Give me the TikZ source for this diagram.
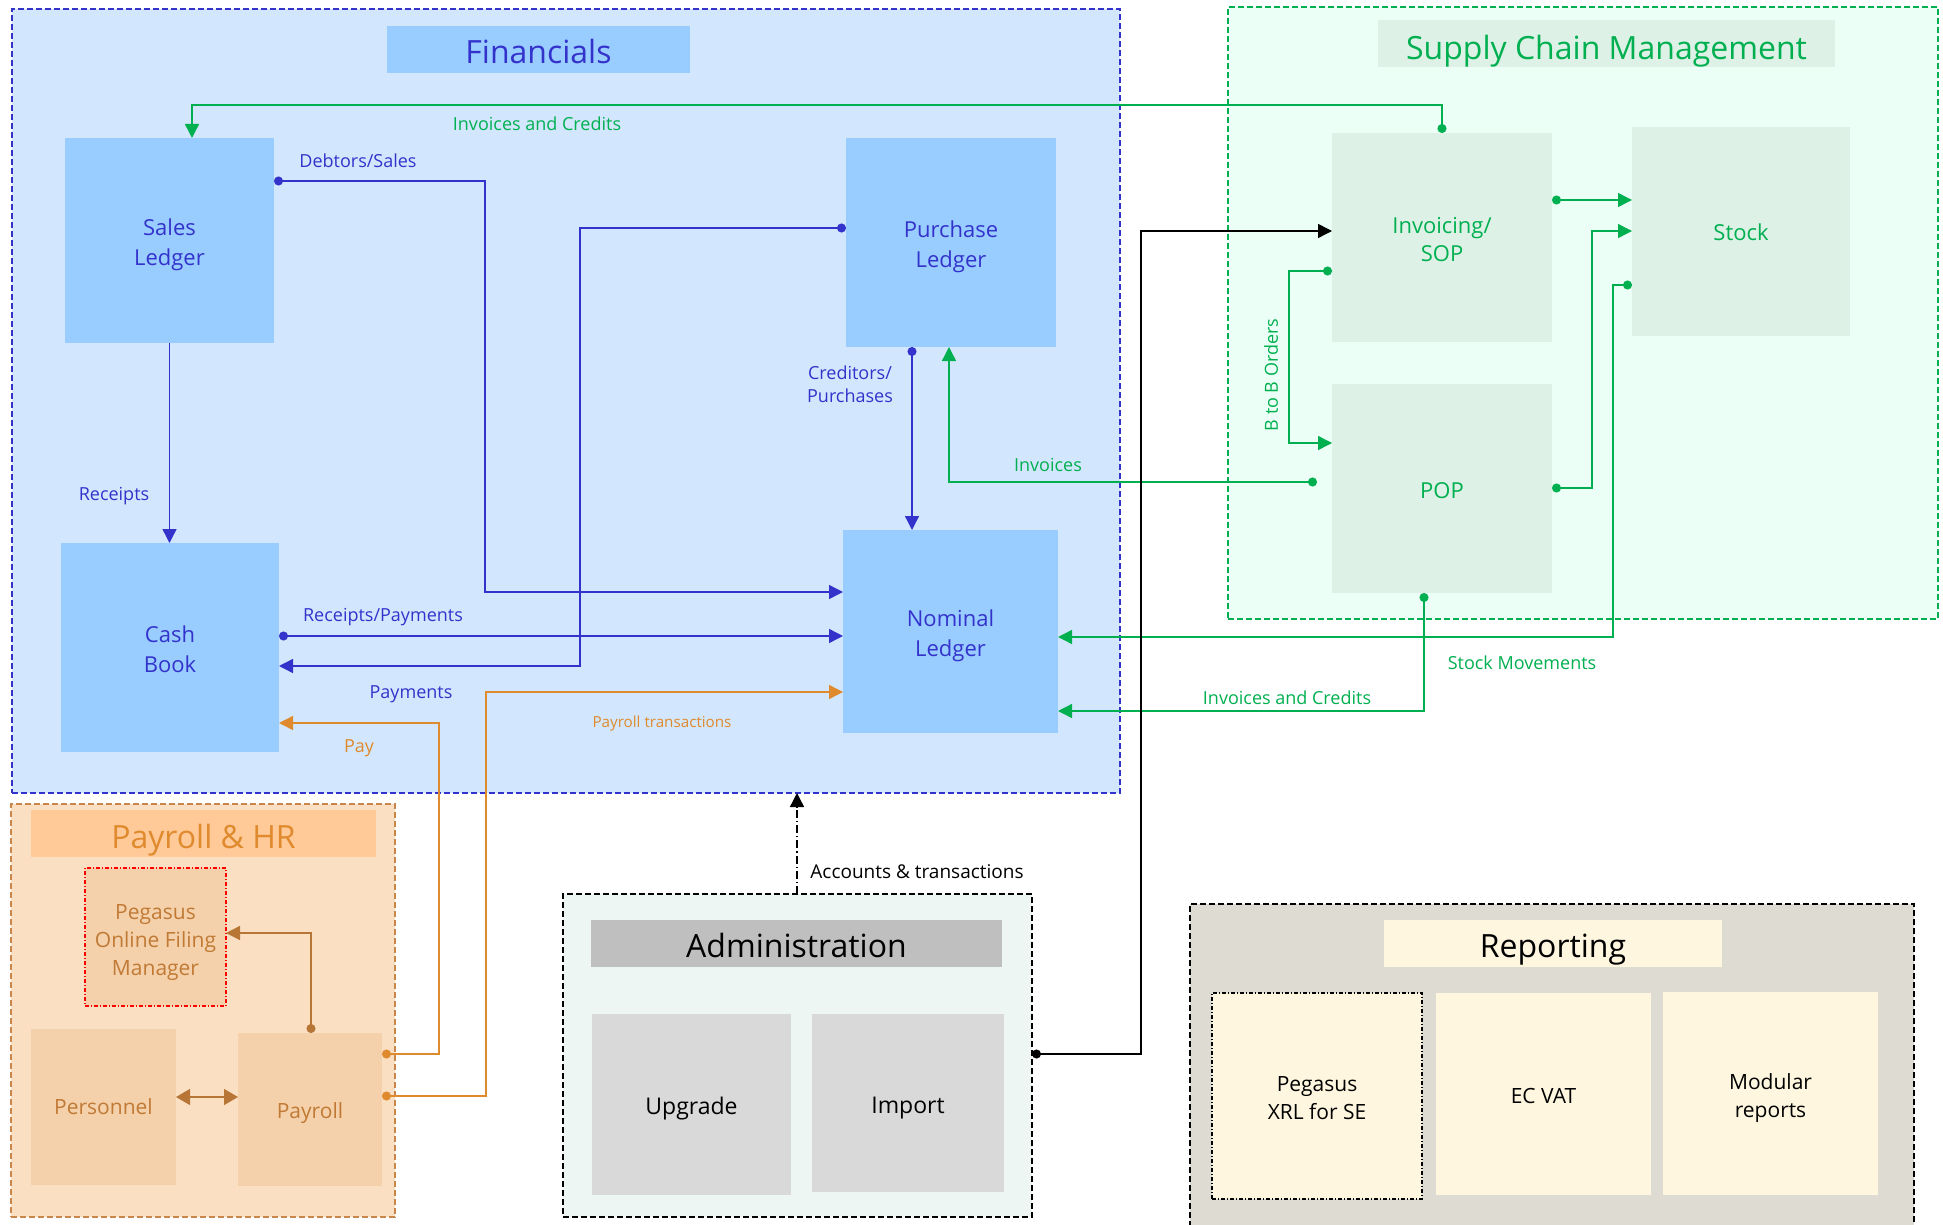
\documentclass[tikz,border=0pt]{standalone}
\usepackage{fontspec}
\setmainfont{Open Sans}
\usetikzlibrary{arrows.meta,calc}
\definecolor{bluec}{HTML}{3333CC}
\definecolor{finfill}{HTML}{D2E7FD}
\definecolor{finbox}{HTML}{99CCFF}
\definecolor{greenc}{HTML}{00B050}
\definecolor{scmfill}{HTML}{ECFFF6}
\definecolor{scmbox}{HTML}{DDF1E6}
\definecolor{orangec}{HTML}{E08A2E}
\definecolor{brownc}{HTML}{B87636}
\definecolor{payfill}{HTML}{FADFC3}
\definecolor{paytitle}{HTML}{FFCA98}
\definecolor{paybox}{HTML}{F4D1AA}
\definecolor{payborder}{HTML}{C8864A}
\definecolor{paytext}{HTML}{C07A35}
\definecolor{admfill}{HTML}{EDF6F2}
\definecolor{admtitle}{HTML}{BFBFBF}
\definecolor{admbox}{HTML}{D9D9D9}
\definecolor{repfill}{HTML}{DEDBD3}
\definecolor{repbox}{HTML}{FEF6DF}
% box: style, name, x1, y1, x2, y2, text, text drop in pt (coordinates in pixels)
\newcommand\mkbox[8]{%
  \pgfmathsetmacro\myBW{(#5-#3)*0.5}%
  \pgfmathsetmacro\myBH{(#6-#4)*0.5}%
  \node[#1,minimum width=\myBW pt,minimum height=\myBH pt] (#2) at ({(#3+#5)/2},{(#4+#6)/2}) {};
  \node[#1,draw=none,fill=none,minimum width=0pt,minimum height=0pt,yshift=-#8pt] (#2-t) at (#2.center) {#7};}
\begin{document}
\begin{tikzpicture}[x=0.5pt,y=-0.5pt,
  box/.style={rectangle,inner sep=0pt,outer sep=0pt,align=center},
  cont/.style={box,line width=0.6pt,dash pattern=on 3pt off 1.5pt},
  ttl/.style={box,font=\fontsize{16}{19}\selectfont},
  fbx/.style={box,fill=finbox,text=bluec,font=\fontsize{11}{15}\selectfont},
  sbx/.style={box,fill=scmbox,text=greenc,font=\fontsize{11}{14}\selectfont},
  pbx/.style={box,fill=paybox,text=paytext,font=\fontsize{10.5}{13.8}\selectfont},
  abx/.style={box,fill=admbox,text=black,font=\fontsize{11.5}{14}\selectfont},
  rbx/.style={box,fill=repbox,text=black,font=\fontsize{10.5}{14}\selectfont},
  lbl/.style={inner sep=0pt,align=center,font=\fontsize{9}{11.5}\selectfont},
  ln/.style={line width=0.7pt},
  arr/.style={-{Triangle[length=7pt,width=7pt]}},
  darr/.style={{Circle[length=4.5pt]}-{Triangle[length=7pt,width=7pt]}},
  dbl/.style={{Triangle[length=7pt,width=8pt]}-{Triangle[length=7pt,width=8pt]}}
]
\clip (0,0) rectangle (1943,1225);
\fill[white] (0,0) rectangle (1943,1225);

% ---------- Financials ----------
\mkbox{cont,fill=finfill,draw=bluec}{fin}{12}{9}{1120}{793}{}{0}
\mkbox{ttl,fill=finbox,text=bluec}{fintitle}{387}{26}{690}{73}{Financials}{1.2}
\mkbox{fbx}{sales}{65}{138}{274}{343}{Sales\\Ledger}{1.9}
\mkbox{fbx}{purch}{846}{138}{1056}{347}{Purchase\\Ledger}{1.9}
\mkbox{fbx}{cash}{61}{543}{279}{752}{Cash\\Book}{1.0}
\mkbox{fbx}{nom}{843}{530}{1058}{733}{Nominal\\Ledger}{1.9}

% ---------- Supply Chain ----------
\mkbox{cont,fill=scmfill,draw=greenc}{scm}{1228}{7}{1938}{619}{}{0}
\mkbox{ttl,fill=scmbox,text=greenc}{scmtitle}{1378}{20}{1835}{67}{Supply Chain Management}{3.6}
\mkbox{sbx}{inv}{1332}{133}{1552}{342}{Invoicing/\\SOP}{1.0}
\mkbox{sbx}{stock}{1632}{127}{1850}{336}{Stock}{0.6}
\mkbox{sbx}{pop}{1332}{384}{1552}{593}{POP}{1.2}

% ---------- Payroll & HR ----------
\mkbox{cont,fill=payfill,draw=payborder}{payhr}{11}{804}{395}{1217}{}{0}
\mkbox{ttl,fill=paytitle,text=orangec}{paytitlebar}{31}{810}{376}{857}{Payroll \& HR}{3.1}
\mkbox{pbx,draw=red,line width=0.6pt,dash pattern=on 2pt off 1pt on 0.5pt off 1pt}{ofm}{85}{868}{226}{1006}{Pegasus\\Online Filing\\Manager}{2.8}
\mkbox{pbx}{pers}{31}{1029}{176}{1185}{Personnel}{0}
\mkbox{pbx}{payroll}{238}{1033}{382}{1186}{Payroll}{1.9}

% ---------- Administration ----------
\mkbox{cont,fill=admfill,draw=black}{adm}{563}{894}{1032}{1217}{}{0}
\mkbox{ttl,fill=admtitle,text=black}{admtitlebar}{591}{920}{1002}{967}{Administration}{1.2}
\mkbox{abx}{upg}{592}{1014}{791}{1195}{Upgrade}{1.9}
\mkbox{abx}{imp}{812}{1014}{1004}{1192}{Import}{2.5}

% ---------- Reporting ----------
\mkbox{cont,fill=repfill,draw=black}{rep}{1190}{904}{1914}{1245}{}{0}
\mkbox{ttl,fill=repbox,text=black}{reptitle}{1384}{920}{1722}{967}{Reporting}{3.1}
\mkbox{rbx,draw=black,line width=0.6pt,dash pattern=on 2pt off 1pt on 0.5pt off 1pt}{xrl}{1212}{993}{1422}{1199}{Pegasus\\XRL for SE}{1.0}
\mkbox{rbx}{ecvat}{1436}{993}{1651}{1195}{EC VAT}{1.2}
\mkbox{rbx}{modrep}{1663}{992}{1878}{1195}{Modular\\reports}{2.5}

% ---------- Connectors: blue ----------
\draw[ln,draw=bluec,darr] (sales.east |- 0,181) -- (485,181) |- (nom.west |- 0,592);
\draw[ln,draw=bluec,darr] (purch.west |- 0,228) -- (580,228) |- (cash.east |- 0,666);
\draw[ln,draw=bluec,darr] (cash.east |- 0,636) -- (nom.west |- 0,636);
\draw[ln,draw=bluec,arr] (sales.south) -- (sales.south |- cash.north);
\draw[ln,draw=bluec,darr] (purch.south -| 912,0) -- (nom.north -| 912,0);

% ---------- Connectors: green ----------
\draw[ln,draw=greenc,darr] (inv.north) -- ++(0,-28) -| (sales.north -| 192,0);
\draw[ln,draw=greenc,darr] ($(pop.west |- 0,482)+(-15,0)$) -- (949,482) -- (purch.south -| 949,0);
\draw[ln,draw=greenc,darr] (inv.west |- 0,271) -- (1289,271) |- (pop.west |- 0,443);
\draw[ln,draw=greenc,darr] (inv.east |- 0,200) -- (stock.west |- 0,200);
\draw[ln,draw=greenc,darr] (pop.east |- 0,488) -- (1592,488) |- (stock.west |- 0,231);
\draw[ln,draw=greenc,darr] (stock.west |- 0,285) -- (1613,285) |- (nom.east |- 0,637);
\draw[ln,draw=greenc,darr] (pop.south -| 1424,0) |- (nom.east |- 0,711);

% ---------- Connectors: black ----------
\draw[ln,draw=black,darr] (adm.east |- 0,1054) -- (1141,1054) |- (inv.west |- 0,231);
\draw[ln,draw=black,arr,dash pattern=on 4pt off 1.5pt on 0.6pt off 1.5pt] (adm.north -| 797,0) -- (fin.south -| 797,0);

% ---------- Connectors: orange / brown ----------
\draw[ln,draw=orangec,darr] (payroll.east |- 0,1054) -- (439,1054) |- (cash.east |- 0,723);
\draw[ln,draw=orangec,darr] (payroll.east |- 0,1096) -- (486,1096) |- (nom.west |- 0,692);
\draw[ln,draw=brownc,darr] (payroll.north -| 311,0) |- (ofm.east |- 0,933);
\draw[ln,draw=brownc,dbl] (pers.east |- 0,1097) -- (payroll.west |- 0,1097);

% ---------- Labels ----------
\node[lbl,text=greenc] (lInvCredTop) at (537,124) {Invoices and Credits};
\node[lbl,text=bluec] (lDebt) at (358,161) {Debtors/Sales};
\node[lbl,text=bluec] (lCred) at (850,384) {Creditors/\\Purchases};
\node[lbl,text=bluec] (lRec) at (114,496) {Receipts};
\node[lbl,text=bluec] (lRecPay) at (383,617) {Receipts/Payments};
\node[lbl,text=bluec] (lPaym) at (411,694) {Payments};
\node[lbl,text=orangec] (lPay) at (359,748) {Pay};
\node[lbl,text=orangec,font=\fontsize{7.6}{9}\selectfont] (lPayTr) at (662,724) {Payroll transactions};
\node[lbl,text=greenc] (lInv) at (1048,465) {Invoices};
\node[lbl,text=greenc,rotate=90] (lBtoB) at (1271,375) {B to B Orders};
\node[lbl,text=greenc] (lStockMov) at (1522,663) {Stock Movements};
\node[lbl,text=greenc] (lInvCred) at (1287,698) {Invoices and Credits};
\node[lbl,text=black,font=\fontsize{9.5}{11}\selectfont] (lAcc) at (917,872) {Accounts \& transactions};
\end{tikzpicture}
\end{document}
